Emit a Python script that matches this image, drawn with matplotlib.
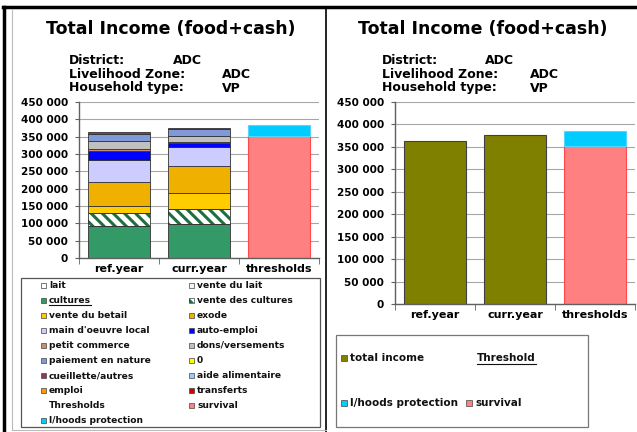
import matplotlib
matplotlib.use("Agg")
import matplotlib.pyplot as plt
from matplotlib.patches import Rectangle

plt.rcParams['font.family'] = ['DejaVu Sans']
plt.rcParams['font.weight'] = 'bold'
plt.rcParams['hatch.linewidth'] = 2.2

# ---------------- data ----------------
categories = ["ref.year", "curr.year", "thresholds"]
source_names = ["cultures", "vente des cultures", "vente du betail", "exode",
                "main d'oeuvre local", "auto-emploi", "petit commerce",
                "dons/versements", "paiement en nature", "cueillette/autres"]
ref_values = [91000, 40000, 18000, 70000, 65000, 26000, 3000, 25000, 20000, 5000]
curr_values = [99000, 41000, 47000, 79000, 54000, 11000, 4000, 17000, 19000, 5000]
survival = 351000
lhoods_protection = 34000
total_income = [363000, 376000]
yticks = [0, 50000, 100000, 150000, 200000, 250000, 300000, 350000, 400000, 450000]

legend_col1 = ["lait", "cultures", "vente du betail", "main d'oeuvre local",
               "petit commerce", "paiement en nature", "cueillette/autres",
               "emploi", "Thresholds", "l/hoods protection"]
legend_col2 = ["vente du lait", "vente des cultures", "exode", "auto-emploi",
               "dons/versements", "0", "aide alimentaire", "transferts", "survival"]

colors = {
    "lait": "#FFFFFF", "vente du lait": "#F4F4F4", "cultures": "#339966",
    "vente des cultures": "hatch", "vente du betail": "#FFCC00", "exode": "#EFB000",
    "main d'oeuvre local": "#CCCCFF", "auto-emploi": "#0000FF",
    "petit commerce": "#C8906A", "dons/versements": "#C0C0C0",
    "paiement en nature": "#7F99DA", "0": "#FFFF00",
    "cueillette/autres": "#8B3A62", "aide alimentaire": "#99CCFF",
    "emploi": "#FF9900", "transferts": "#CC0000", "survival": "#FF8080",
    "l/hoods protection": "#00CCFF", "total income": "#808000",
}
HATCH_GREEN = "#1E6E3E"

W, H = 637, 432
fig = plt.figure(figsize=(W / 100, H / 100), dpi=100)

# overlay in pixel coordinates (y downward)
ov = fig.add_axes([0, 0, 1, 1])
ov.set_xlim(0, W)
ov.set_ylim(H, 0)
ov.axis('off')
ov.patch.set_visible(False)

# frame lines
ov.plot([3, W], [7, 7], color="black", lw=2.5)
ov.plot([4, 4], [7, H], color="black", lw=2.5)
ov.plot([326, 326], [7, H], color="black", lw=1.2)
ov.plot([12, 12], [10, 430], color="#BBBBBB", lw=0.8)
ov.plot([12, 326], [430, 430], color="#BBBBBB", lw=0.8)

# headers
for cx, lx, v1x, v2x in [(171, 69, 173, 222), (483, 382, 485, 530)]:
    ov.text(cx, 29, "Total Income (food+cash)", ha="center", va="center", fontsize=12.5)
    ov.text(lx, 61, "District:", ha="left", va="center", fontsize=9)
    ov.text(v1x, 61, "ADC", ha="left", va="center", fontsize=9)
    ov.text(lx, 74.5, "Livelihood Zone:", ha="left", va="center", fontsize=9)
    ov.text(v2x, 74.5, "ADC", ha="left", va="center", fontsize=9)
    ov.text(lx, 88, "Household type:", ha="left", va="center", fontsize=9)
    ov.text(v2x, 88, "VP", ha="left", va="center", fontsize=9)


def fmt(v):
    return f"{v:,}".replace(",", " ")


def style_axes(ax):
    ax.set_xlim(-0.5, 2.5)
    ax.set_ylim(0, 450000)
    ax.set_yticks(yticks)
    ax.set_yticklabels([fmt(v) for v in yticks], fontsize=7.5, fontweight="bold")
    ax.set_xticks(range(len(categories)))
    ax.set_xticklabels(categories, fontsize=8, fontweight="bold")
    ax.set_xticks([-0.5, 0.5, 1.5, 2.5], minor=True)
    ax.tick_params(axis="x", which="major", length=0, pad=4)
    ax.tick_params(axis="x", which="minor", length=4, color="#606060")
    ax.tick_params(axis="y", length=3, pad=5, color="#606060")
    for s in ["top", "right"]:
        ax.spines[s].set_visible(False)
    for s in ["left", "bottom"]:
        ax.spines[s].set_color("#606060")
        ax.spines[s].set_linewidth(1.0)
    ax.grid(axis="y", color="#A6A6A6", lw=0.8)
    ax.set_axisbelow(True)
    ax.patch.set_visible(False)


BW = 0.78
# ---------------- left chart ----------------
ax1 = fig.add_axes([79 / W, 1 - 258 / H, 240 / W, 156 / H])
style_axes(ax1)
for xi, vals in enumerate([ref_values, curr_values]):
    bottom = 0
    for name, v in zip(source_names, vals):
        c = colors[name]
        if c == "hatch":
            ax1.bar(xi, v, BW, bottom=bottom, color="white", edgecolor=HATCH_GREEN,
                    lw=0, hatch="\\\\\\", zorder=2)
            ax1.bar(xi, v, BW, bottom=bottom, fill=False, edgecolor="#333333",
                    lw=0.6, zorder=3)
        else:
            ax1.bar(xi, v, BW, bottom=bottom, color=c, edgecolor="#333333",
                    lw=0.6, zorder=2)
        bottom += v
ax1.bar(2, survival, BW, color=colors["survival"], edgecolor="#FF4A4A", lw=0.8, zorder=2)
ax1.bar(2, lhoods_protection, BW, bottom=survival, color=colors["l/hoods protection"],
        edgecolor="#55D5FF", lw=0.8, zorder=2)

# ---------------- right chart ----------------
ax2 = fig.add_axes([395 / W, 1 - 304 / H, 240 / W, 202 / H])
style_axes(ax2)
ax2.bar([0, 1], total_income, BW, color=colors["total income"], edgecolor="#404040",
        lw=0.8, zorder=2)
ax2.bar(2, survival, BW, color=colors["survival"], edgecolor="#FF4A4A", lw=0.8, zorder=2)
ax2.bar(2, lhoods_protection, BW, bottom=survival, color=colors["l/hoods protection"],
        edgecolor="#55D5FF", lw=0.8, zorder=2)

# ---------------- legends ----------------
underlined = []


def legend_entry(mx, tx, y, label, fs, msize=5):
    c = colors.get(label)
    if c is not None:
        if c == "hatch":
            ov.add_patch(Rectangle((mx - msize / 2, y - msize / 2), msize, msize,
                                   facecolor="white", edgecolor=HATCH_GREEN, lw=0,
                                   hatch="\\\\\\"))
            ov.add_patch(Rectangle((mx - msize / 2, y - msize / 2), msize, msize,
                                   fill=False, edgecolor="#444444", lw=0.5))
        else:
            ov.add_patch(Rectangle((mx - msize / 2, y - msize / 2), msize, msize,
                                   facecolor=c, edgecolor="#444444", lw=0.5))
    t = ov.text(tx, y, label, ha="left", va="center", fontsize=fs, color="#111111")
    return t


# left legend box
ov.add_patch(Rectangle((21, 278), 299, 149, fill=False, edgecolor="#555555", lw=0.9))
row_y0, row_dy = 285, 15.1
for i, lab in enumerate(legend_col1):
    t = legend_entry(43, 49, row_y0 + i * row_dy, lab, 6.6)
    if lab == "cultures":
        underlined.append(t)
for i, lab in enumerate(legend_col2):
    legend_entry(191, 197, row_y0 + i * row_dy, lab, 6.6)

# right legend box
ov.add_patch(Rectangle((336, 335), 252, 92, fill=False, edgecolor="#777777", lw=0.9))
legend_entry(344, 350, 358, "total income", 7.5, 5.5)
tth = ov.text(477, 358, "Threshold", ha="left", va="center", fontsize=7.5, color="#111111")
underlined.append(tth)
legend_entry(344, 350, 403, "l/hoods protection", 7.5, 5.5)
legend_entry(469, 476, 403, "survival", 7.5, 5.5)

fig.canvas.draw()
r = fig.canvas.get_renderer()
for t in underlined:
    bb = t.get_window_extent(renderer=r)
    yline = H - bb.y0 + 0.5
    ov.plot([bb.x0, bb.x1], [yline, yline], color="#111111", lw=0.8)

fig.savefig("out.png", dpi=100)
